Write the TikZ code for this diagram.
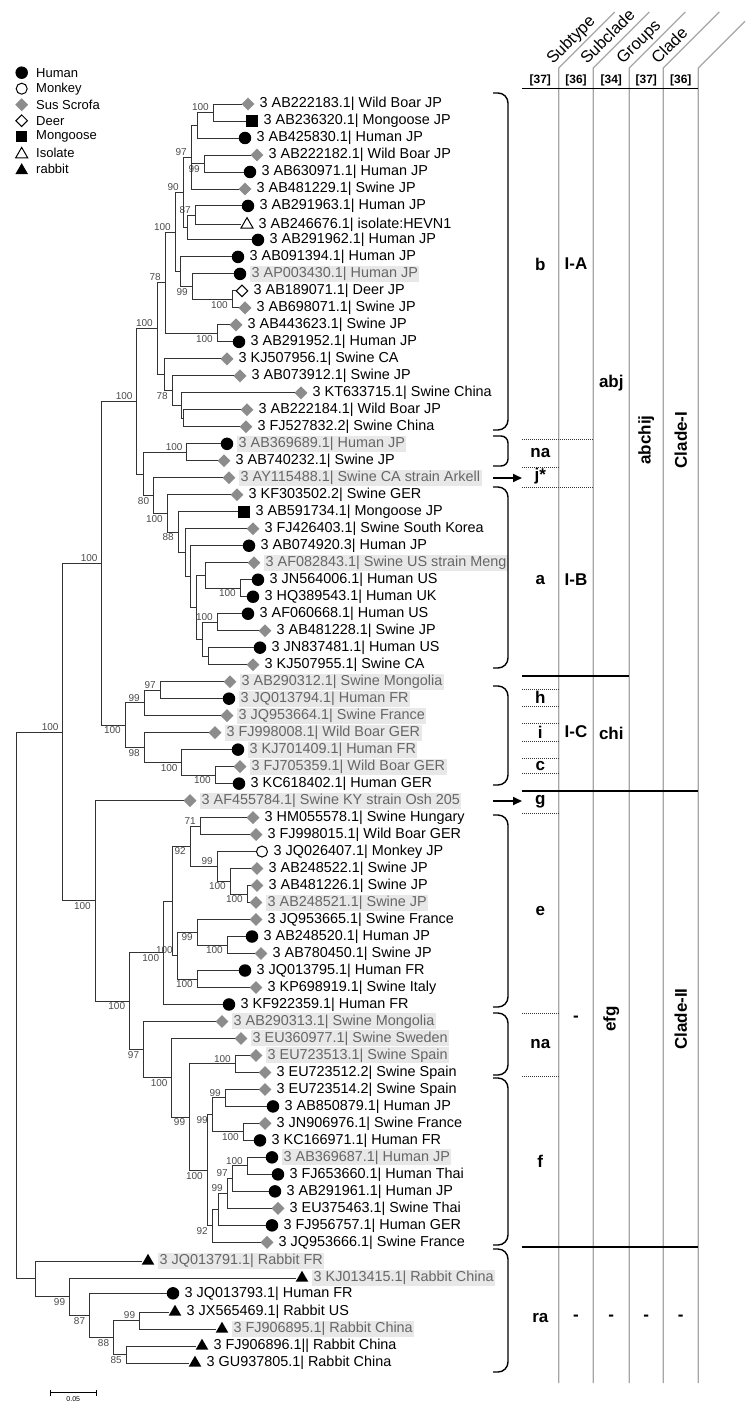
\documentclass[tikz,border=0pt]{standalone}
\usepackage{fontspec}
\setmainfont{Liberation Sans}
\usetikzlibrary{calc,shapes.geometric,arrows.meta}
\newcommand\lf[6]{%
  \node[#4] (#1k) at (#2,{104+(#3-1)*16.99}) {};
  \coordinate (#1) at ($(#1k.center)+(-6,0)$);
  \node[#5] (#1t) at ($(#1k.center)+(10,0)$) {3 #6};
}
\newcommand\cl[6]{%
  \coordinate (#1m) at ($(#3)!.5!(#4)$);
  \coordinate (#1) at (#2,0 |- #1m);
  \draw[br] (#3) -- (#3 -| #1) -- (#4 -| #1) -- (#4);
  \node[bs,#5] (#1l) at (#1) {#6};
}
\newcommand\clt[7]{%
  \coordinate (#1m) at ($(#3)!.5!(#5)$);
  \coordinate (#1) at (#2,0 |- #1m);
  \draw[br] (#3) -- (#3 -| #1) -- (#5 -| #1) -- (#5);
  \draw[br] (#4 -| #1) -- (#4);
  \node[bs,#6] (#1l) at (#1) {#7};
}
\begin{document}
\begin{tikzpicture}[x=1pt,y=-1pt,
  br/.style={draw=black!80, line width=0.9pt},
  bs/.style={font=\fontsize{10}{10}\selectfont, text=black!70, inner sep=0pt},
  la/.style={anchor=south east, xshift=-4pt, yshift=1.5pt},
  lb/.style={anchor=north east, xshift=-4pt, yshift=-1.5pt},
  lt/.style={anchor=west, inner xsep=1.5pt, inner ysep=0pt, minimum height=16pt, font=\fontsize{14.4}{16}\selectfont},
  hl/.style={lt, fill=black!9, text=black!60},
  mH/.style={circle, fill=black, minimum size=12.5pt, inner sep=0pt},
  mM/.style={circle, draw=black, line width=1pt, minimum size=11pt, inner sep=0pt},
  mS/.style={diamond, fill=black!45, minimum size=13pt, inner sep=0pt},
  mD/.style={diamond, draw=black, line width=1pt, minimum size=12pt, inner sep=0pt},
  mG/.style={rectangle, fill=black, minimum size=11.5pt, inner sep=0pt},
  mI/.style={regular polygon, regular polygon sides=3, draw=black, line width=1pt, minimum size=14pt, inner sep=0pt, yshift=-1.7pt},
  mR/.style={regular polygon, regular polygon sides=3, fill=black, minimum size=14.5pt, inner sep=0pt, yshift=-1.7pt},
  legt/.style={anchor=west, inner sep=0pt, font=\fontsize{13}{14}\selectfont},
  brk/.style={draw=black, line width=1.4pt, rounded corners=10pt},
  brks/.style={draw=black, line width=1.4pt, rounded corners=7pt},
  tgl/.style={draw=black!35, line width=1.3pt},
  tsolid/.style={draw=black, line width=1.6pt},
  tdot/.style={draw=black!80, line width=0.9pt, dash pattern=on 1pt off 1pt},
  tlab/.style={font=\bfseries\fontsize{17}{18}\selectfont, inner sep=0pt},
  tref/.style={font=\bfseries\fontsize{12}{13}\selectfont, inner sep=0pt},
  thead/.style={font=\fontsize{16.5}{17}\selectfont, inner sep=0pt, anchor=base west, rotate=45},
  arr/.style={line width=1.8pt, -{Triangle[length=9pt,width=8pt]}}
]
\useasboundingbox (0,0) rectangle (747,1403);
\fill[white] (0,0) rectangle (747,1403);

% ---------------- legend
\node[mH] (g1) at (21.7,72.7) {};  \node[legt] (g1t) at (36,72.7) {Human};
\node[mM] (g2) at (21.7,88.7) {};  \node[legt] (g2t) at (36,88.7) {Monkey};
\node[mS] (g3) at (21.7,104.7) {}; \node[legt] (g3t) at (36,104.7) {Sus Scrofa};
\node[mD] (g4) at (21.7,120.7) {}; \node[legt] (g4t) at (36,120.7) {Deer};
\node[mG] (g5) at (21.7,136.7) {}; \node[legt] (g5t) at (36,136.7) {Mongoose};
\node[mI] (g6) at (21.7,152.7) {}; \node[legt] (g6t) at (36,152.7) {Isolate};
\node[mR] (g7) at (21.7,168.7) {}; \node[legt] (g7t) at (36,168.7) {rabbit};

% ---------------- leaves
\lf{l1}{248}{1}{mS}{lt}{AB222183.1| Wild Boar JP}
\lf{l2}{252}{2}{mG}{lt}{AB236320.1| Mongoose JP}
\lf{l3}{245}{3}{mH}{lt}{AB425830.1| Human JP}
\lf{l4}{257}{4}{mS}{lt}{AB222182.1| Wild Boar JP}
\lf{l5}{250}{5}{mH}{lt}{AB630971.1| Human JP}
\lf{l6}{245}{6}{mS}{lt}{AB481229.1| Swine JP}
\lf{l7}{248}{7}{mH}{lt}{AB291963.1| Human JP}
\lf{l8}{247}{8}{mI}{lt}{AB246676.1| isolate:HEVN1}
\lf{l9}{258}{9}{mH}{lt}{AB291962.1| Human JP}
\lf{l10}{238}{10}{mH}{lt}{AB091394.1| Human JP}
\lf{l11}{240}{11}{mH}{hl}{AP003430.1| Human JP}
\lf{l12}{242}{12}{mD}{lt}{AB189071.1| Deer JP}
\lf{l13}{245}{13}{mS}{lt}{AB698071.1| Swine JP}
\lf{l14}{236}{14}{mS}{lt}{AB443623.1| Swine JP}
\lf{l15}{239}{15}{mH}{lt}{AB291952.1| Human JP}
\lf{l16}{227}{16}{mS}{lt}{KJ507956.1| Swine CA}
\lf{l17}{240}{17}{mS}{lt}{AB073912.1| Swine JP}
\lf{l18}{301}{18}{mS}{lt}{KT633715.1| Swine China}
\lf{l19}{247}{19}{mS}{lt}{AB222184.1| Wild Boar JP}
\lf{l20}{246}{20}{mS}{lt}{FJ527832.2| Swine China}
\lf{l21}{227}{21}{mH}{hl}{AB369689.1| Human JP}
\lf{l22}{224}{22}{mS}{lt}{AB740232.1| Swine JP}
\lf{l23}{229}{23}{mS}{hl}{AY115488.1| Swine CA strain Arkell}
\lf{l24}{237}{24}{mS}{lt}{KF303502.2| Swine GER}
\lf{l25}{244}{25}{mG}{lt}{AB591734.1| Mongoose JP}
\lf{l26}{253}{26}{mS}{lt}{FJ426403.1| Swine South Korea}
\lf{l27}{249}{27}{mH}{lt}{AB074920.3| Human JP}
\lf{l28}{254}{28}{mS}{hl}{AF082843.1| Swine US strain Meng}
\lf{l29}{258}{29}{mH}{lt}{JN564006.1| Human US}
\lf{l30}{253}{30}{mH}{lt}{HQ389543.1| Human UK}
\lf{l31}{248}{31}{mH}{lt}{AF060668.1| Human US}
\lf{l32}{265}{32}{mS}{lt}{AB481228.1| Swine JP}
\lf{l33}{260}{33}{mH}{lt}{JN837481.1| Human US}
\lf{l34}{253}{34}{mS}{lt}{KJ507955.1| Swine CA}
\lf{l35}{230}{35}{mS}{hl}{AB290312.1| Swine Mongolia}
\lf{l36}{229}{36}{mH}{hl}{JQ013794.1| Human FR}
\lf{l37}{227}{37}{mS}{hl}{JQ953664.1| Swine France}
\lf{l38}{215}{38}{mS}{hl}{FJ998008.1| Wild Boar GER}
\lf{l39}{238}{39}{mH}{hl}{KJ701409.1| Human FR}
\lf{l40}{240}{40}{mS}{hl}{FJ705359.1| Wild Boar GER}
\lf{l41}{239}{41}{mH}{lt}{KC618402.1| Human GER}
\lf{l42}{190}{42}{mS}{hl}{AF455784.1| Swine KY strain Osh 205}
\lf{l43}{253}{43}{mS}{lt}{HM055578.1| Swine Hungary}
\lf{l44}{256}{44}{mS}{lt}{FJ998015.1| Wild Boar GER}
\lf{l45}{262}{45}{mM}{lt}{JQ026407.1| Monkey JP}
\lf{l46}{257}{46}{mS}{lt}{AB248522.1| Swine JP}
\lf{l47}{257}{47}{mS}{lt}{AB481226.1| Swine JP}
\lf{l48}{256}{48}{mS}{hl}{AB248521.1| Swine JP}
\lf{l49}{256}{49}{mS}{lt}{JQ953665.1| Swine France}
\lf{l50}{252}{50}{mH}{lt}{AB248520.1| Human JP}
\lf{l51}{261}{51}{mS}{lt}{AB780450.1| Swine JP}
\lf{l52}{245}{52}{mH}{lt}{JQ013795.1| Human FR}
\lf{l53}{256}{53}{mS}{lt}{KP698919.1| Swine Italy}
\lf{l54}{229}{54}{mH}{lt}{KF922359.1| Human FR}
\lf{l55}{222}{55}{mS}{hl}{AB290313.1| Swine Mongolia}
\lf{l56}{241}{56}{mS}{hl}{EU360977.1| Swine Sweden}
\lf{l57}{256}{57}{mS}{hl}{EU723513.1| Swine Spain}
\lf{l58}{265}{58}{mS}{lt}{EU723512.2| Swine Spain}
\lf{l59}{265}{59}{mS}{lt}{EU723514.2| Swine Spain}
\lf{l60}{273}{60}{mH}{lt}{AB850879.1| Human JP}
\lf{l61}{265}{61}{mS}{lt}{JN906976.1| Swine France}
\lf{l62}{260}{62}{mH}{lt}{KC166971.1| Human FR}
\lf{l63}{272}{63}{mH}{hl}{AB369687.1| Human JP}
\lf{l64}{278}{64}{mH}{lt}{FJ653660.1| Human Thai}
\lf{l65}{275}{65}{mH}{lt}{AB291961.1| Human JP}
\lf{l66}{278}{66}{mS}{lt}{EU375463.1| Swine Thai}
\lf{l67}{272}{67}{mH}{lt}{FJ956757.1| Human GER}
\lf{l68}{267}{68}{mS}{lt}{JQ953666.1| Swine France}
\lf{l69}{148}{69}{mR}{hl}{JQ013791.1| Rabbit FR}
\lf{l70}{302}{70}{mR}{hl}{KJ013415.1| Rabbit China}
\lf{l71}{173}{71}{mH}{lt}{JQ013793.1| Human FR}
\lf{l72}{175}{72}{mR}{lt}{JX565469.1| Rabbit US}
\lf{l73}{222}{73}{mR}{hl}{FJ906895.1| Rabbit China}
\lf{l74}{202}{74}{mR}{lt}{FJ906896.1|| Rabbit China}
\lf{l75}{195}{75}{mR}{lt}{GU937805.1| Rabbit China}

% ---------------- subtype b
\cl{nAa}{213}{l1}{l2}{la}{100}
\cl{nAb}{197}{nAa}{l3}{}{}
\cl{nAc}{204}{l4}{l5}{lb}{99}
\clt{nA}{191}{nAb}{nAc}{l6}{la}{97}
\cl{nBa}{195}{l7}{l8}{la}{87}
\cl{nBb}{187}{nBa}{l9}{}{}
\cl{nB}{183}{nA}{nBb}{la}{90}
\cl{nCa}{232}{l12}{l13}{lb}{100}
\cl{nCb}{192}{l11}{nCa}{lb}{99}
\cl{nCc}{180}{l10}{nCb}{}{}
\cl{nC}{175}{nB}{nCc}{la}{100}
\cl{nDa}{217}{l14}{l15}{lb}{100}
\cl{nD}{165}{nC}{nDa}{la}{78}
\cl{nEa}{183}{l19}{l20}{}{}
\cl{nEb}{181}{l18}{nEa}{}{}
\cl{nEc}{172}{l17}{nEb}{lb}{78}
\cl{nEd}{164}{l16}{nEc}{}{}
\cl{nb}{157}{nD}{nEd}{la}{100}
% ---------------- na, j*, a
\cl{nFa}{186.7}{l21}{l22}{la}{100}
\cl{nGa}{240}{l29}{l30}{lb}{100}
\cl{nGb}{205}{l28}{nGa}{}{}
\cl{nGc}{217}{l31}{l32}{la}{100}
\cl{nGd}{208}{l33}{l34}{}{}
\cl{nGe}{202}{nGc}{nGd}{}{}
\cl{nGf}{196}{nGb}{nGe}{}{}
\cl{nGg}{190}{l27}{nGf}{}{}
\cl{nGh}{185}{l26}{nGg}{}{}
\cl{nGi}{178}{l25}{nGh}{lb}{88}
\cl{nGj}{167}{l24}{nGi}{lb}{100}
\cl{nGk}{153.3}{l23}{nGj}{lb}{80}
\cl{X6}{143.3}{nFa}{nGk}{}{}
\cl{X4}{136.7}{nb}{X6}{la}{100}
% ---------------- chi
\cl{nHa}{160}{l35}{l36}{la}{97}
\cl{nHb}{144}{nHa}{l37}{la}{99}
\cl{nHc}{215}{l40}{l41}{lb}{100}
\cl{nHd}{181.7}{l39}{nHc}{lb}{100}
\cl{nHe}{144}{l38}{nHd}{lb}{98}
\cl{X5}{125}{nHb}{nHe}{lb}{100}
\cl{X2}{101.7}{X4}{X5}{la}{100}
% ---------------- e
\cl{nIa}{200}{l43}{l44}{la}{71}
\cl{nIb}{247}{l47}{l48}{lb}{100}
\cl{nIc}{230}{l46}{nIb}{lb}{100}
\cl{nId}{217}{l45}{nIc}{la}{99}
\cl{nIe}{190}{nIa}{nId}{lb}{92}
\cl{nJa}{227}{l50}{l51}{lb}{100}
\cl{nJb}{197}{l49}{nJa}{lb}{99}
\cl{nJc}{197}{l52}{l53}{lb}{100}
\cl{nJd}{177}{nJb}{nJc}{la}{100}
\cl{nJe}{172}{nIe}{nJd}{}{}
\cl{nE}{163.3}{nJe}{l54}{lb}{100}
% ---------------- na2, f
\cl{nKa}{235}{l57}{l58}{la}{100}
\cl{nKb}{225}{l59}{l60}{la}{99}
\cl{nKc}{243}{l61}{l62}{lb}{100}
\cl{nKd}{212}{nKb}{nKc}{lb}{99}
\cl{nLa}{247}{l63}{l64}{la}{100}
\cl{nLb}{232}{nLa}{l65}{la}{97}
\cl{nLc}{227}{nLb}{l66}{la}{99}
\cl{nLd}{218}{nLc}{l67}{}{}
\cl{nLe}{212}{nLd}{l68}{lb}{92}
\cl{nMa}{207}{nKd}{nLe}{lb}{100}
\cl{nMb}{189.3}{nKa}{nMa}{lb}{99}
\cl{nMc}{171.7}{l56}{nMb}{lb}{100}
\cl{nF}{143.3}{l55}{nMc}{lb}{97}
\cl{X7}{129.3}{nE}{nF}{lb}{100}
\cl{X3}{95}{l42}{X7}{lb}{100}
\cl{X1}{62.7}{X2}{X3}{la}{100}
% ---------------- rabbit
\cl{R6}{126}{l74}{l75}{lb}{85}
\cl{R5}{139.3}{l72}{l73}{la}{99}
\cl{R4}{113.3}{R5}{R6}{lb}{88}
\cl{R3}{89.3}{l71}{R4}{lb}{87}
\cl{R2}{69.3}{l70}{R3}{lb}{99}
\cl{R1}{35}{l69}{R2}{}{}
\cl{root}{16.7}{X1}{R1}{}{}

% ---------------- scale bar
\draw[line width=0.8pt] (50,1389.7) -- (50,1395.7) (50,1392.7) -- (96.7,1392.7) (96.7,1389.7) -- (96.7,1395.7);
\node[font=\fontsize{7}{7}\selectfont, inner sep=0pt] (sc) at (73.3,1399.5) {0.05};

% ---------------- brackets and arrows
\draw[brk] (493,93) -- (508,93) -- (508,430) -- (493,430);
\draw[brks] (493,436) -- (508,436) -- (508,466) -- (493,466);
\draw[brk] (493,487) -- (508,487) -- (508,668) -- (493,668);
\draw[brk] (493,686) -- (508,686) -- (508,785) -- (493,785);
\draw[brk] (493,815) -- (508,815) -- (508,1007) -- (493,1007);
\draw[brk] (493,1013) -- (508,1013) -- (508,1075) -- (493,1075);
\draw[brk] (493,1078) -- (508,1078) -- (508,1245) -- (493,1245);
\draw[brk] (493,1249) -- (508,1249) -- (508,1372) -- (493,1372);
\draw[arr] (493,478) -- (522,478);
\draw[arr] (493,801) -- (522,801);

% ---------------- table
\foreach \c in {558.7,593.3,629.3,663.3} \draw[tgl] (\c,1383) -- (\c,68) -- ++(56,-56);
\draw[tgl] (698.3,1383) -- (698.3,68) -- (745,21.3);
\node[thead] (h1) at (553,65) {Subtype};
\node[thead] (h2) at (587,65) {Subclade};
\node[thead] (h3) at (623,65) {Groups};
\node[thead] (h4) at (658,65) {Clade};
\node[tref] (r1) at (540.3,80) {[37]};
\node[tref] (r2) at (576,80) {[36]};
\node[tref] (r3) at (611.3,80) {[34]};
\node[tref] (r4) at (646.3,80) {[37]};
\node[tref] (r5) at (680.8,80) {[36]};
\draw[tsolid] (522,88.3) -- (698.3,88.3);
\draw[tsolid] (522,675.8) -- (629.3,675.8);
\draw[tsolid] (522,791) -- (698.3,791);
\draw[tsolid] (522,1247) -- (698.3,1247);
\draw[tdot] (522,439) -- (593.3,439);
\draw[tdot] (522,467) -- (558.7,467);
\draw[tdot] (522,487) -- (593.3,487);
\foreach \yy in {689,706,723,741,758,773,813,1013,1076} \draw[tdot] (522,\yy) -- (558.7,\yy);

\node[tlab] (tb) at (540.3,264) {b};
\node[tlab] (tIA) at (576,264) {I-A};
\node[tlab] (tabj) at (611.3,383) {abj};
\node[tlab, rotate=90] (tabchij) at (646.3,440) {abchij};
\node[tlab, rotate=90] (tcl1) at (680.8,440) {Clade-I};
\node[tlab] (tna1) at (540.3,453) {na};
\node[tlab] (tj) at (540.3,476) {j*};
\node[tlab] (ta) at (540.3,580) {a};
\node[tlab] (tIB) at (576,580) {I-B};
\node[tlab] (th) at (540.3,697.5) {h};
\node[tlab] (ti) at (540.3,732) {i};
\node[tlab] (tc) at (540.3,765.5) {c};
\node[tlab] (tIC) at (576,732) {I-C};
\node[tlab] (tchi) at (611.3,733) {chi};
\node[tlab] (tg) at (540.3,802) {g};
\node[tlab] (te) at (540.3,911) {e};
\node[tlab] (tna2) at (540.3,1044) {na};
\node[tlab] (tf) at (540.3,1161) {f};
\node[tlab] (td1) at (576,1019) {-};
\node[tlab, rotate=90] (tefg) at (611.3,1019) {efg};
\node[tlab, rotate=90] (tcl2) at (680.8,1019) {Clade-II};
\node[tlab] (tra) at (540.3,1318) {ra};
\node[tlab] (td2) at (576,1318) {-};
\node[tlab] (td3) at (611.3,1318) {-};
\node[tlab] (td4) at (646.3,1318) {-};
\node[tlab] (td5) at (680.8,1318) {-};
\end{tikzpicture}
\end{document}
